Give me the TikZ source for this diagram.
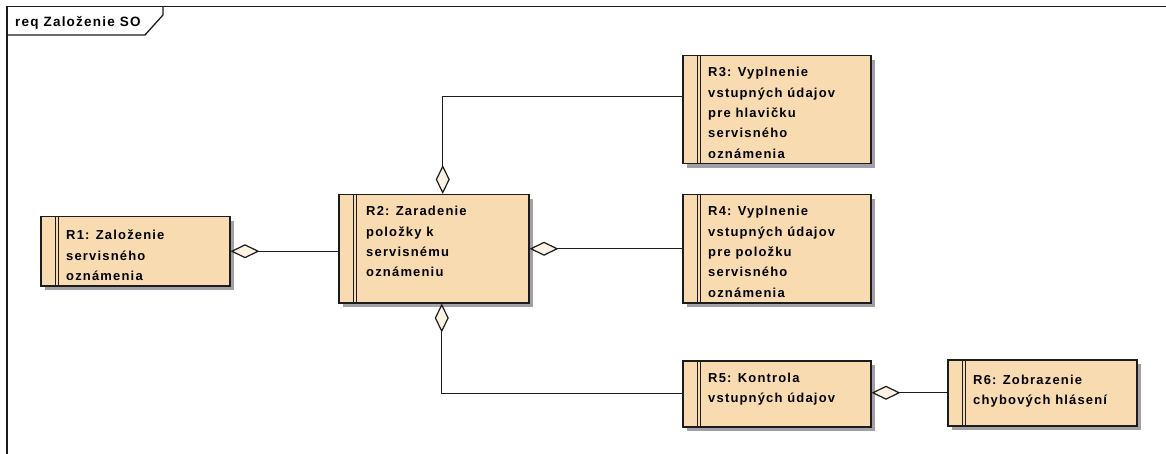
\documentclass[tikz,border=0pt]{standalone}
\usepackage{fontspec}
\setmainfont{Liberation Sans}[LetterSpace=9]
\usetikzlibrary{arrows.meta,shadows}

\definecolor{reqfill}{RGB}{248,219,176}
\definecolor{reqshadow}{RGB}{160,160,166}
\definecolor{aggfill}{RGB}{253,243,228}
\definecolor{inkline}{RGB}{28,28,28}

% top-aligned stack of lines, baseline on the first line
\newcommand{\reqlines}[1]{\begin{tabular}[t]{@{}l@{}}#1\end{tabular}}

\tikzset{
  reqbox/.style={draw=inkline, line width=1.5pt, fill=reqfill, anchor=north west,
    inner sep=0pt,
    general shadow={fill=reqshadow, shadow xshift=4.5pt, shadow yshift=-4.5pt},
    path picture={
      \draw[inkline, line width=1.2pt]
        ([xshift=15pt]path picture bounding box.north west) -- ([xshift=15pt]path picture bounding box.south west)
        ([xshift=18pt]path picture bounding box.north west) -- ([xshift=18pt]path picture bounding box.south west);
    }},
  reqtext/.style={anchor=base west, inner sep=0pt,
    font=\bfseries\fontsize{13}{20.3}\selectfont, text=black},
  agg/.style={draw=inkline, line width=1.3pt,
    -{Diamond[length=29pt, width=14pt, fill=aggfill, line width=1.2pt]}},
  frameline/.style={draw=inkline, line width=1.3pt}
}

\begin{document}
\begin{tikzpicture}[x=1pt, y=-1pt]
  \useasboundingbox (0,0) rectangle (1166,454);

  % diagram frame with its name tab
  \draw[frameline] (1166,6.5) -- (7,6.5) -- (7,454);
  \draw[frameline] (7,35) -- (145,35) -- (163,15) -- (163,6.5);
  \node[anchor=base west, inner sep=0pt, font=\bfseries\fontsize{13.5}{15}\selectfont] (title) at (15,27) {req Založenie SO};

  % requirement boxes
  \node[reqbox, minimum width=189pt, minimum height=69pt]  (r1) at (40,216)  {};
  \node[reqbox, minimum width=190pt, minimum height=108pt] (r2) at (338,194) {};
  \node[reqbox, minimum width=188pt, minimum height=108pt] (r3) at (682,55)  {};
  \node[reqbox, minimum width=188pt, minimum height=108pt] (r4) at (682,194) {};
  \node[reqbox, minimum width=188pt, minimum height=66pt]  (r5) at (682,360) {};
  \node[reqbox, minimum width=189pt, minimum height=66pt]  (r6) at (947,359) {};

  \node[reqtext] (r1t) at (66,240)  {\reqlines{R1: Založenie\\servisného\\oznámenia}};
  \node[reqtext] (r2t) at (366,216) {\reqlines{R2: Zaradenie\\položky k\\servisnému\\oznámeniu}};
  \node[reqtext] (r3t) at (708,77)  {\reqlines{R3: Vyplnenie\\vstupných údajov\\pre hlavičku\\servisného\\oznámenia}};
  \node[reqtext] (r4t) at (708,216) {\reqlines{R4: Vyplnenie\\vstupných údajov\\pre položku\\servisného\\oznámenia}};
  \node[reqtext] (r5t) at (708,382) {\reqlines{R5: Kontrola\\vstupných údajov}};
  \node[reqtext] (r6t) at (973,384) {\reqlines{R6: Zobrazenie\\chybových hlásení}};

  % aggregation connectors (diamond at the whole)
  \draw[agg] (r2.west |- r1.east) -- (r1.east);
  \draw[agg] ([yshift=13pt]r3.west) -| ([xshift=9pt]r2.north);
  \draw[agg] (r4.west) -- (r4.west -| r2.east);
  \draw[agg] (r5.west) -| ([xshift=8pt]r2.south);
  \draw[agg] (r6.west) -- (r6.west -| r5.east);
\end{tikzpicture}
\end{document}
